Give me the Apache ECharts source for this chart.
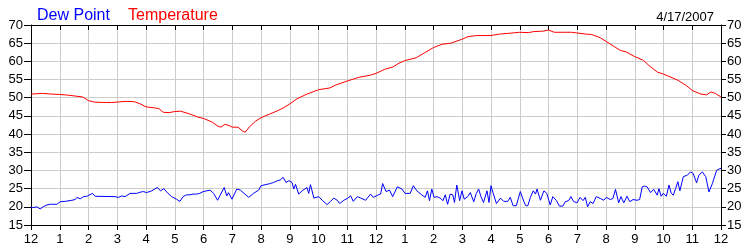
<!DOCTYPE html>
<html>
<head>
<meta charset="utf-8">
<script src="https://cdn.jsdelivr.net/npm/echarts@6/dist/echarts.min.js"></script>
<style>html,body{margin:0;padding:0;background:#fff}#c{width:750px;height:250px}</style>
</head>
<body>
<div id="c"></div>
<script>
const hourLabels = ['12','1','2','3','4','5','6','7','8','9','10','11','12','1','2','3','4','5','6','7','8','9','10','11','12'];
const yTicks = [15,20,25,30,35,40,45,50,55,60,65,70];

const tempHours = [0,0.4,0.7,1.0,1.3,1.5,1.8,2.0,2.2,2.5,2.8,3.0,3.3,3.6,3.8,4.0,4.3,4.45,4.6,4.8,5.0,5.2,5.5,5.8,6.0,6.3,6.5,6.6,6.75,6.9,7.0,7.2,7.35,7.45,7.6,7.8,8.0,8.3,8.6,8.8,9.0,9.25,9.6,10.0,10.4,10.6,11.0,11.4,11.8,12.0,12.3,12.6,12.8,13.0,13.4,13.7,14.0,14.3,14.6,15.0,15.2,15.5,16.0,16.3,16.6,17.0,17.3,17.5,17.8,18.0,18.2,18.5,18.8,19.0,19.3,19.5,19.8,20.0,20.3,20.5,20.7,21.0,21.3,21.5,21.8,22.0,22.3,22.5,22.8,23.0,23.3,23.5,23.65,23.8,24.0];
const tempValues = [51.0,51.2,51.0,50.9,50.7,50.5,50.2,49.2,48.8,48.7,48.7,48.8,49.0,48.9,48.3,47.5,47.2,47.0,46.0,45.9,46.2,46.3,45.6,44.7,44.3,43.3,42.2,41.9,42.7,42.3,41.9,41.9,40.9,40.5,42.0,43.5,44.5,45.5,46.5,47.3,48.3,49.7,51.0,52.2,52.7,53.5,54.6,55.6,56.2,56.7,57.8,58.5,59.5,60.2,61.0,62.4,63.8,64.7,65.0,66.1,66.8,67.1,67.1,67.5,67.7,68.0,67.9,68.2,68.3,68.6,68.0,68.0,68.0,67.8,67.5,67.4,66.5,65.5,64.0,63.0,62.6,61.3,60.3,58.8,57.0,56.5,55.5,54.8,53.3,52.0,51.0,50.8,51.6,51.2,50.2];

const dewHours = [0,0.09,0.21,0.32,0.44,0.55,0.67,0.9,1.02,1.19,1.25,1.42,1.54,1.6,1.71,1.83,1.94,2.0,2.14,2.23,2.92,3.04,3.16,3.27,3.45,3.68,3.79,3.91,4.02,4.2,4.25,4.39,4.51,4.62,4.74,4.89,5.06,5.18,5.29,5.41,5.53,5.64,5.76,5.87,5.99,
6.12,6.23,6.35,6.49,6.6,6.72,6.81,6.87,6.99,7.16,7.28,7.57,7.74,7.92,8.0,8.21,8.33,8.44,8.58,8.67,8.77,8.87,8.97,9.08,9.14,9.2,9.31,9.43,9.6,9.66,9.72,9.84,10.01,10.13,10.3,10.42,10.53,10.65,10.74,10.88,11.0,11.12,11.21,11.35,11.47,11.64,11.81,11.91,
12.08,12.16,12.23,12.35,12.47,12.58,12.74,12.9,13.01,13.19,13.3,13.42,13.59,13.71,13.79,13.86,13.94,14.02,14.12,14.23,14.33,14.41,14.49,14.58,14.67,14.73,14.81,14.91,14.99,15.07,15.19,15.28,15.4,15.49,15.57,15.65,15.74,15.86,15.93,16.0,16.07,16.19,16.33,16.44,16.58,16.67,16.77,16.88,17.02,17.14,17.21,17.28,17.37,17.47,17.55,17.6,17.72,17.84,17.94,
18.06,18.15,18.27,18.38,18.5,18.58,18.7,18.78,18.87,18.99,19.1,19.2,19.28,19.36,19.45,19.55,19.66,19.8,19.92,20.01,20.15,20.24,20.33,20.44,20.52,20.62,20.73,20.83,20.94,21.08,21.17,21.26,21.34,21.43,21.55,21.66,21.78,21.84,21.92,21.99,22.1,22.19,22.27,22.34,22.42,22.5,22.57,22.69,22.83,22.94,23.03,23.15,23.23,23.35,23.47,23.58,23.7,23.85,24.0];
const dewValues = [19.8,19.8,20.0,19.4,20.1,20.5,20.7,20.7,21.4,21.5,21.2,21.8,22.0,22.6,22.2,22.8,22.9,22.8,23.7,22.9,22.8,22.6,23.0,22.8,23.7,23.7,24.0,24.2,23.9,24.4,24.8,25.3,24.4,25.0,23.9,22.8,22.1,21.5,22.8,23.3,23.3,23.5,23.5,23.7,24.2,
24.4,24.6,23.7,21.8,23.5,25.3,23.0,23.9,22.1,24.9,24.6,22.6,23.7,24.6,25.8,26.2,26.4,26.7,27.2,27.4,28.1,26.7,27.2,26.7,24.9,26.2,23.5,24.4,25.3,23.7,26.1,22.4,22.8,21.8,20.6,21.5,22.4,21.8,20.9,21.8,22.3,23.0,21.5,22.8,22.4,21.8,23.5,22.6,
23.3,23.5,26.4,24.2,24.6,22.8,25.5,24.9,23.7,23.7,25.8,24.4,23.3,22.6,24.4,21.7,24.9,22.6,22.8,22.4,21.7,23.3,20.7,23.5,23.3,21.2,26.0,21.7,24.4,22.1,22.8,23.9,21.4,23.7,24.9,22.8,21.2,24.4,21.2,25.8,23.9,20.9,22.4,21.5,21.5,22.6,20.3,20.3,24.2,21.5,20.3,20.3,22.6,24.4,23.5,24.9,21.8,24.4,23.7,
20.5,22.8,21.8,20.2,20.2,21.4,21.7,22.8,21.5,21.1,22.6,21.7,22.6,20.0,21.4,20.9,22.8,22.3,21.8,22.6,22.0,22.3,24.8,21.1,22.8,21.1,22.9,21.4,22.0,21.8,22.0,25.5,25.7,25.5,23.9,24.8,23.2,25.0,22.9,23.7,22.9,26.0,23.7,23.2,25.0,26.9,24.4,28.3,28.7,29.6,29.2,26.6,28.7,29.6,28.3,24.1,26.4,30.1,30.6];

const tempData = tempHours.map((h, i) => [h, tempValues[i]]);
const dewData = dewHours.map((h, i) => [h, dewValues[i]]);

const chart = echarts.init(document.getElementById('c'), null, {renderer: 'canvas'});
const font = 'Arial, "Liberation Sans", sans-serif';
const axisLabelStyle = {color: '#000', fontSize: 13, fontFamily: font};
chart.setOption({
  animation: false,
  backgroundColor: '#fff',
  title: [
    {text: 'Dew Point', left: 32, top: 3, textStyle: {color: '#0000ff', fontSize: 16, fontWeight: 'normal', fontFamily: font}},
    {text: 'Temperature', left: 123, top: 3, textStyle: {color: '#ff0000', fontSize: 16, fontWeight: 'normal', fontFamily: font}},
    {text: '4/17/2007', right: 31, top: 6, textStyle: {color: '#000', fontSize: 13, fontWeight: 'normal', fontFamily: font}}
  ],
  grid: {left: 31, right: 29, top: 25, bottom: 25, containLabel: false},
  xAxis: [
    {type: 'value', min: 0, max: 24, interval: 1, position: 'bottom',
     axisLine: {show: true, lineStyle: {color: '#000', width: 1}},
     axisTick: {show: true, inside: false, length: 5, lineStyle: {color: '#000'}},
     axisLabel: Object.assign({margin: 8, formatter: v => hourLabels[v]}, axisLabelStyle),
     splitLine: {show: true, lineStyle: {color: '#cccccc', width: 1}}},
    {type: 'value', min: 0, max: 24, interval: 1, position: 'top',
     axisLine: {show: true, onZero: false, lineStyle: {color: '#000', width: 1}},
     axisTick: {show: true, inside: true, length: 5, lineStyle: {color: '#000'}},
     axisLabel: {show: false}, splitLine: {show: false}}
  ],
  yAxis: [
    {type: 'value', min: 15, max: 70, interval: 5, position: 'left',
     axisLine: {show: true, lineStyle: {color: '#000', width: 1}},
     axisTick: {show: true, inside: false, length: 7, lineStyle: {color: '#000'}},
     axisLabel: Object.assign({margin: 8, formatter: v => yTicks.includes(v) ? String(v) : ''}, axisLabelStyle),
     splitLine: {show: true, lineStyle: {color: '#cccccc', width: 1}}},
    {type: 'value', min: 15, max: 70, interval: 5, position: 'right',
     axisLine: {show: true, onZero: false, lineStyle: {color: '#000', width: 1}},
     axisTick: {show: true, inside: false, length: 5, lineStyle: {color: '#000'}},
     axisLabel: Object.assign({margin: 6, formatter: v => yTicks.includes(v) ? String(v) : ''}, axisLabelStyle),
     splitLine: {show: false}}
  ],
  series: [
    {name: 'Temperature', type: 'line', xAxisIndex: 0, yAxisIndex: 0, data: tempData, showSymbol: false,
     lineStyle: {color: '#ff0000', width: 1}, itemStyle: {color: '#ff0000'}},
    {name: 'Dew Point', type: 'line', xAxisIndex: 0, yAxisIndex: 0, data: dewData, showSymbol: false,
     lineStyle: {color: '#0000ff', width: 1}, itemStyle: {color: '#0000ff'}}
  ]
});
</script>
</body>
</html>
